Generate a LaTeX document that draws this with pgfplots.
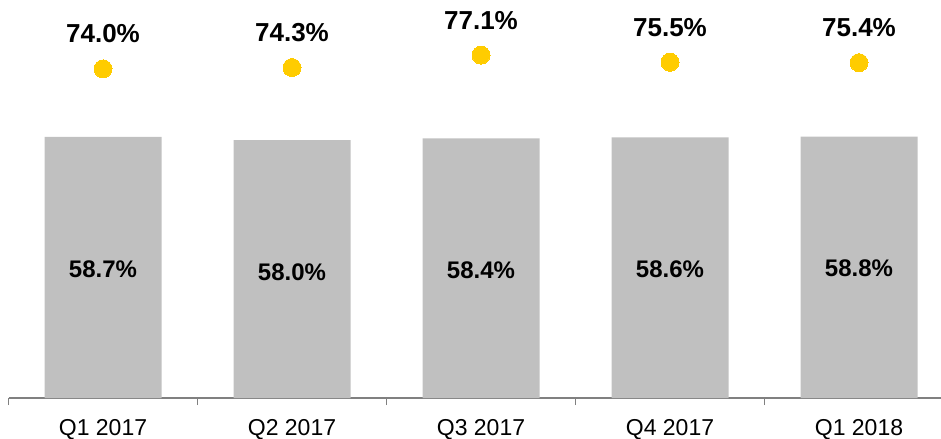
\documentclass[border=0pt]{standalone}
\usepackage{pgfplots}
\pgfplotsset{compat=1.18}
\usepackage{fontspec}
\setmainfont{Liberation Sans}
\definecolor{barg}{HTML}{C0C0C0}
\definecolor{dotc}{HTML}{FFCC00}
\definecolor{axg}{HTML}{808080}
\begin{document}
\begin{tikzpicture}
\begin{axis}[
  scale only axis, width=945bp, height=398bp,
  xmin=-0.5, xmax=4.5, ymin=0, ymax=89.5,
  axis x line=bottom, axis y line=none,
  axis line style={draw=axg, line width=1.2bp, -},
  xtick={0,...,4},
  xticklabels={Q1 2017,Q2 2017,Q3 2017,Q4 2017,Q1 2018},
  major tick length=0pt,
  extra x ticks={-0.5,0.5,1.5,2.5,3.5,4.5},
  extra x tick labels={},
  extra x tick style={major tick length=7bp, tick align=outside, tick style={draw=axg, line width=1.2bp}},
  xticklabel style={font=\fontsize{23bp}{27bp}\selectfont, inner sep=0pt, anchor=north, yshift=-21bp},
  /pgf/number format/assume math mode=true,
  clip=false,
]
\coordinate (O) at (axis cs:-0.5,0);
\addplot[ybar, bar width=117bp, fill=barg, draw=none,
  nodes near coords={\pgfmathprintnumber[fixed,fixed zerofill,precision=1,assume math mode=true]{\pgfplotspointmeta}\%},
  every node near coord/.append style={font=\bfseries\fontsize{24bp}{28bp}\selectfont, text=black, anchor=center, yshift=-132bp}]
  coordinates {(0,58.7) (1,58.0) (2,58.4) (3,58.6) (4,58.8)};
\addplot[color=dotc, only marks, mark=*, mark size=9bp, mark options={fill=dotc, draw=dotc, line width=0pt},
  nodes near coords={\pgfmathprintnumber[fixed,fixed zerofill,precision=1,assume math mode=true]{\pgfplotspointmeta}\%},
  every node near coord/.append style={font=\bfseries\fontsize{26bp}{30bp}\selectfont, text=black, anchor=center, yshift=35bp}]
  coordinates {(0,74.0) (1,74.3) (2,77.1) (3,75.5) (4,75.4)};
\end{axis}
\pgfresetboundingbox
\path[use as bounding box] ([xshift=-8.5bp,yshift=-41bp]O) rectangle ([xshift=932.5bp,yshift=398bp]O);
\end{tikzpicture}
\end{document}
